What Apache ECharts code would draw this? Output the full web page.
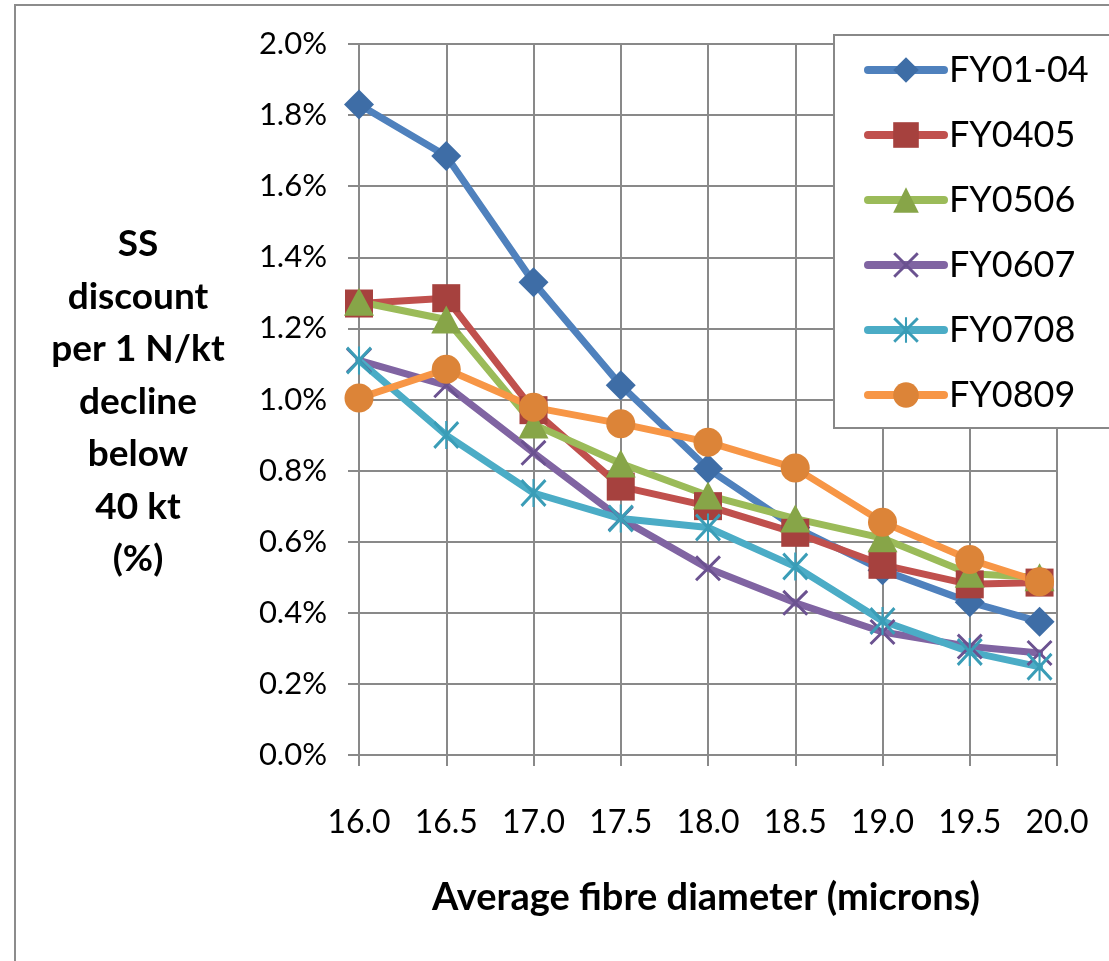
<!DOCTYPE html>
<html>
<head>
<meta charset="utf-8">
<script src="https://cdn.jsdelivr.net/npm/echarts@6/dist/echarts.min.js"></script>
<style>
  html, body { margin: 0; padding: 0; background: #fff; }
  #discountChart { width: 1109px; height: 961px; }
</style>
</head>
<body>
<div id="discountChart"></div>
<script>
// micron values along the x axis (last point sits just short of 20)
var microns = [16.0, 16.5, 17.0, 17.5, 18.0, 18.5, 19.0, 19.5, 19.9];

// discount in percent
var fy0104 = [1.83, 1.685, 1.33, 1.04, 0.805, 0.64, 0.52, 0.43, 0.375];
var fy0405 = [1.27, 1.285, 0.97, 0.755, 0.70, 0.625, 0.535, 0.48, 0.485];
var fy0506 = [1.275, 1.225, 0.93, 0.82, 0.73, 0.665, 0.61, 0.51, 0.50];
var fy0607 = [1.11, 1.04, 0.85, 0.665, 0.525, 0.428, 0.346, 0.305, 0.287];
var fy0708 = [1.11, 0.90, 0.737, 0.665, 0.64, 0.53, 0.377, 0.29, 0.248];
var fy0809 = [1.004, 1.085, 0.978, 0.932, 0.88, 0.807, 0.655, 0.55, 0.487];

var seriesNames = ['FY01-04', 'FY0405', 'FY0506', 'FY0607', 'FY0708', 'FY0809'];

// x-axis ticks and y-axis ticks
var xTicks = { min: 16, max: 20, step: 0.5 };
var yTicks = { min: 0, max: 2.0, step: 0.2 };

var yTitleLines = ['SS', 'discount', 'per 1 N/kt', 'decline', 'below', '40 kt', '(%)'];
var xTitle = 'Average fibre diameter (microns)';

// marker shapes drawn as filled paths
var crossPath = 'path://M0,8 L8,0 L100,92 L92,100 Z M92,0 L100,8 L8,100 L0,92 Z';
var starPath = 'path://M0,8 L8,0 L100,92 L92,100 Z M92,0 L100,8 L8,100 L0,92 Z M46,0 L54,0 L54,100 L46,100 Z';

var gridColor = '#898989';
var font = 'Lato';

function pairUp(ys) {
    var out = [];
    for (var i = 0; i < microns.length; i++) {
        out.push([microns[i], ys[i]]);
    }
    return out;
}

function makeSeries(name, ys, lineColor, markColor, symbol, size) {
    return {
        name: name,
        type: 'line',
        data: pairUp(ys),
        symbol: symbol,
        symbolSize: size,
        showAllSymbol: true,
        lineStyle: { color: lineColor, width: 7, cap: 'round', join: 'round' },
        itemStyle: { color: markColor, borderWidth: 0 },
        emphasis: { disabled: true },
        animation: false
    };
}

var chart = echarts.init(document.getElementById('discountChart'));

var option = {
    backgroundColor: '#fff',
    animation: false,
    grid: {
        left: 359,
        right: 52,
        top: 44,
        bottom: 206
    },
    legend: {
        data: seriesNames,
        orient: 'vertical',
        left: 834,
        top: 35,
        backgroundColor: '#fff',
        borderColor: '#888',
        borderWidth: 2,
        padding: [17, 27, 15, 30],
        itemWidth: 76,
        itemHeight: 32,
        itemGap: 29,
        z: 20,
        lineStyle: { width: 8, cap: 'round' },
        textStyle: {
            fontFamily: font,
            fontSize: 36,
            color: '#000'
        }
    },
    xAxis: {
        type: 'value',
        min: xTicks.min,
        max: xTicks.max,
        interval: xTicks.step,
        axisLine: { show: true, lineStyle: { color: gridColor, width: 2 } },
        axisTick: { show: true, length: 11, lineStyle: { color: gridColor, width: 2 } },
        splitLine: { show: true, lineStyle: { color: gridColor, width: 2 } },
        axisLabel: {
            margin: 52,
            fontFamily: font,
            fontSize: 32,
            color: '#000',
            formatter: function (v) { return v.toFixed(1); }
        }
    },
    yAxis: {
        type: 'value',
        min: yTicks.min,
        max: yTicks.max,
        interval: yTicks.step,
        axisLine: { show: true, lineStyle: { color: gridColor, width: 2 } },
        axisTick: { show: true, length: 11, lineStyle: { color: gridColor, width: 2 } },
        splitLine: { show: true, lineStyle: { color: gridColor, width: 2 } },
        axisLabel: {
            margin: 32,
            fontFamily: font,
            fontSize: 31,
            color: '#000',
            formatter: function (v) { return v.toFixed(1) + '%'; }
        }
    },
    graphic: [
        {
            type: 'rect',
            z: -10,
            silent: true,
            shape: { x: 15, y: 5, width: 1200, height: 1000 },
            style: { fill: 'none', stroke: '#8c8c8c', lineWidth: 2 }
        },
        {
            type: 'text',
            x: 138,
            y: 402,
            silent: true,
            style: {
                text: yTitleLines.join('\n'),
                fontFamily: font,
                fontWeight: 'bold',
                fontSize: 37,
                lineHeight: 52.5,
                fill: '#000',
                align: 'center',
                verticalAlign: 'middle'
            }
        },
        {
            type: 'text',
            x: 706,
            y: 898,
            silent: true,
            style: {
                text: xTitle,
                fontFamily: font,
                fontWeight: 'bold',
                fontSize: 38,
                fill: '#000',
                align: 'center',
                verticalAlign: 'middle'
            }
        }
    ],
    series: [
        makeSeries(seriesNames[0], fy0104, '#4F81BD', '#3E6DA6', 'diamond', [30, 30]),
        makeSeries(seriesNames[1], fy0405, '#C0504D', '#A6413E', 'rect', [28, 28]),
        makeSeries(seriesNames[2], fy0506, '#9BBB59', '#87A548', 'triangle', [30, 28]),
        makeSeries(seriesNames[3], fy0607, '#8064A2', '#6B5290', crossPath, [26, 26]),
        makeSeries(seriesNames[4], fy0708, '#4BACC6', '#3A9DB7', starPath, [26, 28]),
        makeSeries(seriesNames[5], fy0809, '#F79646', '#DC8438', 'circle', [29, 29])
    ]
};

chart.setOption(option);
</script>
</body>
</html>
